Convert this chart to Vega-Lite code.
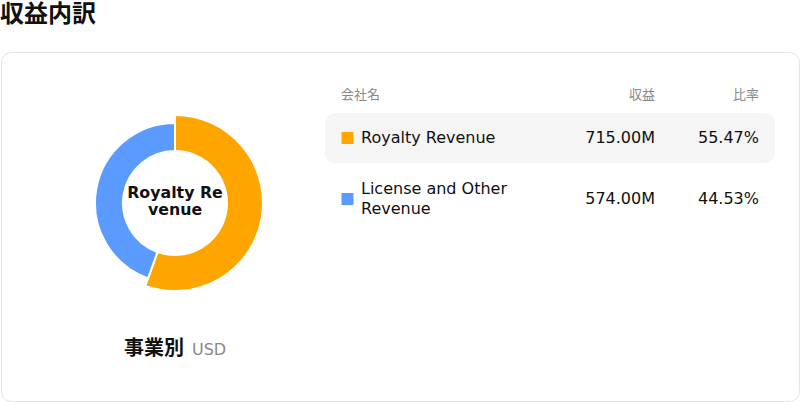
{
  "$schema": "https://vega.github.io/schema/vega-lite/v6.json",
  "autosize": "none",
  "padding": {"left": 1, "top": 52, "right": 1, "bottom": 1},
  "width": 798,
  "height": 349,
  "background": "white",
  "title": {
    "text": "収益内訳",
    "anchor": "start",
    "frame": "group",
    "dx": -1,
    "offset": 25,
    "fontSize": 24,
    "fontWeight": "bold",
    "font": "DejaVu Sans, Noto Sans CJK JP",
    "color": "#111111"
  },
  "data": {
    "values": [
      {"rank": 1, "name": "Royalty Revenue", "label": "Royalty Revenue", "revenue": 715000000, "ratio": 0.5547},
      {"rank": 2, "name": "License and Other Revenue", "label": "License and Other\nRevenue", "revenue": 574000000, "ratio": 0.4453}
    ]
  },
  "resolve": {"scale": {"y": "independent"}},
  "layer": [
    {
      "mark": {"type": "arc", "radius": 88, "radius2": 52, "stroke": "white", "strokeWidth": 2},
      "encoding": {
        "theta": {"field": "revenue", "type": "quantitative", "stack": true},
        "order": {"field": "rank", "type": "quantitative"},
        "opacity": {"condition": {"test": "datum.rank == 1", "value": 1}, "value": 0},
        "color": {
          "field": "name",
          "type": "nominal",
          "scale": {"domain": ["Royalty Revenue", "License and Other Revenue"], "range": ["#FFA500", "#5B9BFF"]},
          "legend": null
        },
        "x": {"datum": 174, "type": "quantitative", "scale": {"domain": [0, 798], "nice": false, "zero": false}, "axis": null},
        "y": {"datum": 151, "type": "quantitative", "scale": {"domain": [0, 349], "reverse": true, "nice": false, "zero": false}, "axis": null}
      }
    },
    {
      "mark": {"type": "arc", "radius": 80, "radius2": 52, "stroke": "white", "strokeWidth": 2},
      "encoding": {
        "theta": {"field": "revenue", "type": "quantitative", "stack": true},
        "order": {"field": "rank", "type": "quantitative"},
        "opacity": {"condition": {"test": "datum.rank == 2", "value": 1}, "value": 0},
        "color": {"field": "name", "type": "nominal", "legend": null},
        "x": {"datum": 174, "type": "quantitative"},
        "y": {"datum": 151, "type": "quantitative", "scale": {"domain": [0, 349], "reverse": true, "nice": false, "zero": false}, "axis": null}
      }
    },
    {
      "transform": [{"filter": "datum.rank == 1"}],
      "mark": {"type": "text", "text": ["Royalty Re", "venue"], "fontSize": 15.8, "fontWeight": "bold", "lineHeight": 17, "align": "center", "baseline": "middle", "font": "DejaVu Sans", "color": "#111111"},
      "encoding": {
        "x": {"datum": 174, "type": "quantitative"},
        "y": {"datum": 141, "type": "quantitative", "scale": {"domain": [0, 349], "reverse": true, "nice": false, "zero": false}, "axis": null}
      }
    },
    {
      "data": {"values": [{"text": "事業別"}]},
      "mark": {"type": "text", "fontSize": 20, "fontWeight": "bold", "align": "right", "baseline": "middle", "font": "Noto Sans CJK JP", "color": "#111111"},
      "encoding": {
        "text": {"field": "text"},
        "x": {"datum": 183, "type": "quantitative"},
        "y": {"datum": 297, "type": "quantitative", "scale": {"domain": [0, 349], "reverse": true, "nice": false, "zero": false}, "axis": null}
      }
    },
    {
      "data": {"values": [{"text": "USD"}]},
      "mark": {"type": "text", "fontSize": 16, "align": "left", "baseline": "middle", "font": "DejaVu Sans", "color": "#888888"},
      "encoding": {
        "text": {"field": "text"},
        "x": {"datum": 191, "type": "quantitative"},
        "y": {"datum": 298, "type": "quantitative", "scale": {"domain": [0, 349], "reverse": true, "nice": false, "zero": false}, "axis": null}
      }
    },
    {
      "data": {"values": [{"col": "会社名"}]},
      "mark": {"type": "text", "fontSize": 13, "align": "left", "baseline": "middle", "font": "Noto Sans CJK JP", "color": "#888888"},
      "encoding": {
        "text": {"field": "col"},
        "x": {"datum": 340, "type": "quantitative"},
        "y": {"datum": 43, "type": "quantitative", "scale": {"domain": [0, 349], "reverse": true, "nice": false, "zero": false}, "axis": null}
      }
    },
    {
      "data": {"values": [{"col": "収益"}]},
      "mark": {"type": "text", "fontSize": 13, "align": "right", "baseline": "middle", "font": "Noto Sans CJK JP", "color": "#888888"},
      "encoding": {
        "text": {"field": "col"},
        "x": {"datum": 654, "type": "quantitative"},
        "y": {"datum": 43, "type": "quantitative", "scale": {"domain": [0, 349], "reverse": true, "nice": false, "zero": false}, "axis": null}
      }
    },
    {
      "data": {"values": [{"col": "比率"}]},
      "mark": {"type": "text", "fontSize": 13, "align": "right", "baseline": "middle", "font": "Noto Sans CJK JP", "color": "#888888"},
      "encoding": {
        "text": {"field": "col"},
        "x": {"datum": 758, "type": "quantitative"},
        "y": {"datum": 43, "type": "quantitative", "scale": {"domain": [0, 349], "reverse": true, "nice": false, "zero": false}, "axis": null}
      }
    },
    {
      "transform": [{"filter": "datum.rank == 1"}],
      "mark": {"type": "bar", "size": 50, "cornerRadius": 10, "color": "#F5F5F5"},
      "encoding": {
        "x": {"datum": 324, "type": "quantitative"},
        "x2": {"datum": 774},
        "y": {"field": "name", "type": "nominal", "scale": {"domain": ["Royalty Revenue", "License and Other Revenue"], "range": [55.5, 177.5], "paddingInner": 0, "paddingOuter": 0}, "axis": null}
      }
    },
    {
      "mark": {"type": "square", "size": 144, "opacity": 1, "filled": true},
      "encoding": {
        "x": {"datum": 346.5, "type": "quantitative"},
        "y": {"field": "name", "type": "nominal", "scale": {"domain": ["Royalty Revenue", "License and Other Revenue"], "range": [55.5, 177.5], "paddingInner": 0, "paddingOuter": 0}, "axis": null},
        "color": {"field": "name", "type": "nominal", "legend": null}
      }
    },
    {
      "transform": [{"filter": "datum.rank == 1"}],
      "mark": {"type": "text", "fontSize": 16, "align": "left", "baseline": "middle", "font": "DejaVu Sans", "color": "#111111"},
      "encoding": {
        "text": {"field": "label"},
        "x": {"datum": 360, "type": "quantitative"},
        "y": {"field": "name", "type": "nominal", "scale": {"domain": ["Royalty Revenue", "License and Other Revenue"], "range": [55.5, 177.5], "paddingInner": 0, "paddingOuter": 0}, "axis": null}
      }
    },
    {
      "transform": [{"filter": "datum.rank == 2"}],
      "mark": {"type": "text", "fontSize": 16, "align": "left", "baseline": "middle", "lineHeight": 20, "lineBreak": "\n", "dy": -10, "font": "DejaVu Sans", "color": "#111111"},
      "encoding": {
        "text": {"field": "label"},
        "x": {"datum": 360, "type": "quantitative"},
        "y": {"field": "name", "type": "nominal", "scale": {"domain": ["Royalty Revenue", "License and Other Revenue"], "range": [55.5, 177.5], "paddingInner": 0, "paddingOuter": 0}, "axis": null}
      }
    },
    {
      "mark": {"type": "text", "fontSize": 16, "align": "right", "baseline": "middle", "font": "DejaVu Sans", "color": "#111111"},
      "encoding": {
        "text": {"field": "revenue", "type": "quantitative", "format": ".5s"},
        "x": {"datum": 654, "type": "quantitative"},
        "y": {"field": "name", "type": "nominal", "scale": {"domain": ["Royalty Revenue", "License and Other Revenue"], "range": [55.5, 177.5], "paddingInner": 0, "paddingOuter": 0}, "axis": null}
      }
    },
    {
      "mark": {"type": "text", "fontSize": 16, "align": "right", "baseline": "middle", "font": "DejaVu Sans", "color": "#111111"},
      "encoding": {
        "text": {"field": "ratio", "type": "quantitative", "format": ".2%"},
        "x": {"datum": 758, "type": "quantitative"},
        "y": {"field": "name", "type": "nominal", "scale": {"domain": ["Royalty Revenue", "License and Other Revenue"], "range": [55.5, 177.5], "paddingInner": 0, "paddingOuter": 0}, "axis": null}
      }
    }
  ],
  "config": {
    "view": {"stroke": "#E2E2EC", "strokeWidth": 1, "cornerRadius": 10, "fill": "white"}
  }
}
